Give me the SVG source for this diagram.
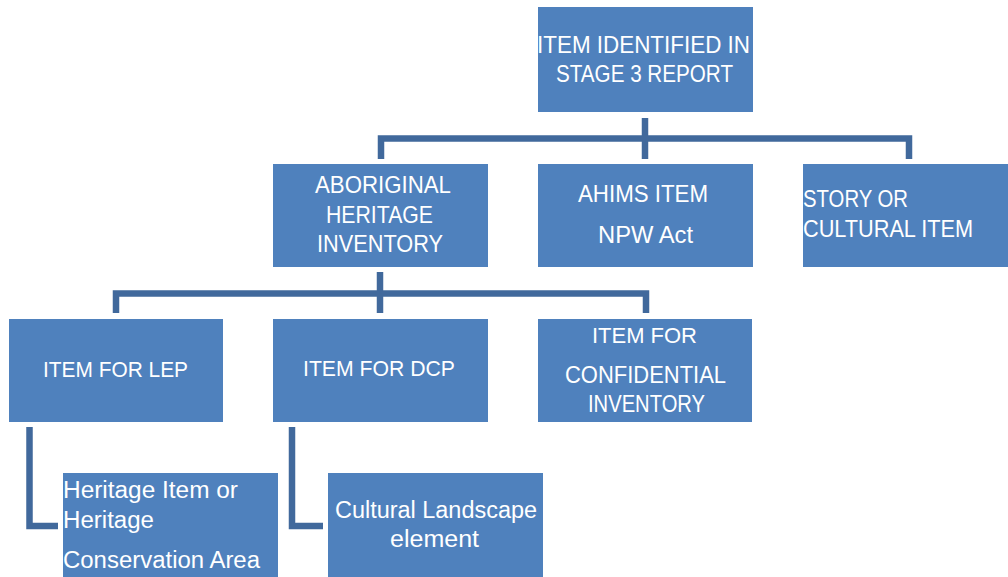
<svg xmlns="http://www.w3.org/2000/svg" width="1008" height="577" viewBox="0 0 1008 577">
<style>
.box{fill:#4F81BD}
.t{fill:#FFFFFF;font-family:"Liberation Sans",Arial,sans-serif;font-size:24px}
.s{font-size:22px}
.m{font-size:23px}
.c{fill:none;stroke:#41699C;stroke-width:6.5;stroke-linecap:butt;stroke-linejoin:miter}
</style>
<rect width="1008" height="577" fill="#FFFFFF"/>
<g id="connectors">
<path class="c" d="M645 118V159"/>
<path class="c" d="M381 159V138.5H909V159"/>
<path class="c" d="M380 272V313"/>
<path class="c" d="M116 313V293.5H646V313"/>
<path class="c" d="M29.5 427V526H58"/>
<path class="c" d="M292 427V526H323"/>
</g>
<g id="n-stage3">
<rect class="box" x="538" y="7" width="215" height="105"/>
<text class="t" x="537" y="53" textLength="213" lengthAdjust="spacingAndGlyphs">ITEM IDENTIFIED IN</text>
<text class="t" x="556" y="82" textLength="177" lengthAdjust="spacingAndGlyphs">STAGE 3 REPORT</text>
</g>
<g id="n-aboriginal">
<rect class="box" x="273" y="164" width="215" height="103"/>
<text class="t" x="315" y="193" textLength="136" lengthAdjust="spacingAndGlyphs">ABORIGINAL</text>
<text class="t" x="326" y="223" textLength="107" lengthAdjust="spacingAndGlyphs">HERITAGE</text>
<text class="t" x="317" y="252" textLength="126" lengthAdjust="spacingAndGlyphs">INVENTORY</text>
</g>
<g id="n-ahims">
<rect class="box" x="538" y="164" width="215" height="103"/>
<text class="t" x="578" y="202" textLength="130" lengthAdjust="spacingAndGlyphs">AHIMS ITEM</text>
<text class="t" x="598" y="243" textLength="95" lengthAdjust="spacingAndGlyphs">NPW Act</text>
</g>
<g id="n-story">
<rect class="box" x="803" y="164" width="205" height="103"/>
<text class="t" x="803" y="207" textLength="105" lengthAdjust="spacingAndGlyphs">STORY OR</text>
<text class="t" x="803" y="237" textLength="170" lengthAdjust="spacingAndGlyphs">CULTURAL ITEM</text>
</g>
<g id="n-lep">
<rect class="box" x="9" y="319" width="214" height="103"/>
<text class="t s" x="43" y="377" textLength="145" lengthAdjust="spacingAndGlyphs">ITEM FOR LEP</text>
</g>
<g id="n-dcp">
<rect class="box" x="273" y="319" width="215" height="103"/>
<text class="t s" x="303" y="376" textLength="152" lengthAdjust="spacingAndGlyphs">ITEM FOR DCP</text>
</g>
<g id="n-confidential">
<rect class="box" x="538" y="319" width="214" height="103"/>
<text class="t s" x="592" y="343" textLength="105" lengthAdjust="spacingAndGlyphs">ITEM FOR</text>
<text class="t m" x="565" y="383" textLength="161" lengthAdjust="spacingAndGlyphs">CONFIDENTIAL</text>
<text class="t m" x="588" y="412" textLength="117" lengthAdjust="spacingAndGlyphs">INVENTORY</text>
</g>
<g id="n-heritage">
<rect class="box" x="63" y="473" width="215" height="104"/>
<text class="t m" x="63" y="498" textLength="175" lengthAdjust="spacingAndGlyphs">Heritage Item or</text>
<text class="t m" x="63" y="528" textLength="91" lengthAdjust="spacingAndGlyphs">Heritage</text>
<text class="t m" x="63" y="568" textLength="197" lengthAdjust="spacingAndGlyphs">Conservation Area</text>
</g>
<g id="n-cultural">
<rect class="box" x="328" y="473" width="215" height="104"/>
<text class="t m" x="335" y="518" textLength="202" lengthAdjust="spacingAndGlyphs">Cultural Landscape</text>
<text class="t m" x="390" y="547" textLength="89" lengthAdjust="spacingAndGlyphs">element</text>
</g>
</svg>
